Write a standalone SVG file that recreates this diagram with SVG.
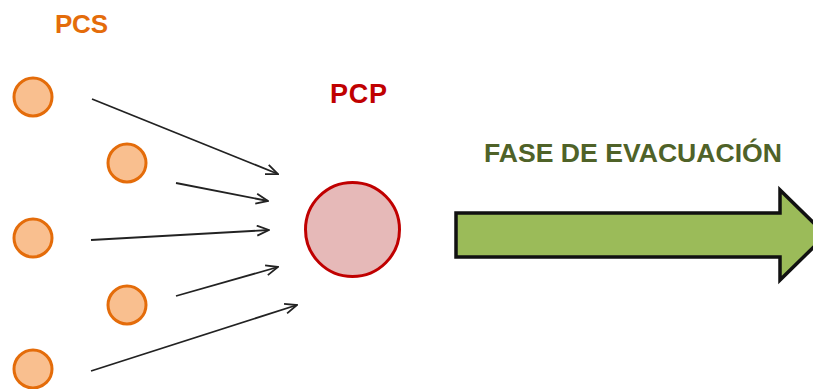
<svg xmlns="http://www.w3.org/2000/svg" width="813" height="389" viewBox="0 0 813 389">
<style>
.pcs{fill:#F9BF8F;stroke:#E46C0A;stroke-width:3}
.lbl{font-family:"Liberation Sans",Arial,sans-serif;font-weight:bold}
.conn line{stroke:#222;stroke-width:1.8;fill:none;marker-end:url(#ah)}
</style>
<defs>
<marker id="ah" viewBox="0 0 14 12" refX="13" refY="6" markerWidth="14" markerHeight="12" markerUnits="userSpaceOnUse" orient="auto">
<path d="M1,1 L13,6 L1,11" fill="none" stroke="#222" stroke-width="1.8"/>
</marker>
</defs>
<rect width="813" height="389" fill="#fff"/>
<text class="lbl" x="55" y="33" font-size="26" fill="#E46C0A" textLength="53">PCS</text>
<g id="pcs1"><circle class="pcs" cx="33" cy="97" r="19"/></g>
<g id="pcs2"><circle class="pcs" cx="127" cy="163" r="19"/></g>
<g id="pcs3"><circle class="pcs" cx="33" cy="238" r="19"/></g>
<g id="pcs4"><circle class="pcs" cx="127" cy="305" r="19"/></g>
<g id="pcs5"><circle class="pcs" cx="33" cy="369" r="19"/></g>
<g id="pcp">
<text class="lbl" x="330" y="103" font-size="27" fill="#C00000" textLength="57">PCP</text>
<circle cx="352.5" cy="229.5" r="47" fill="#E6B9B8" stroke="#C00000" stroke-width="3"/>
</g>
<g class="conn" id="connectors">
<line x1="92" y1="99" x2="278" y2="174"/>
<line x1="176" y1="183" x2="268" y2="201"/>
<line x1="91" y1="240" x2="269" y2="230"/>
<line x1="176" y1="296" x2="278" y2="267"/>
<line x1="91" y1="371" x2="297" y2="305"/>
</g>
<g id="evacuacion">
<text class="lbl" x="484" y="162" font-size="26" fill="#4F6228" textLength="298" lengthAdjust="spacingAndGlyphs">FASE DE EVACUACIÓN</text>
<path d="M456,213 L780,213 L780,190 L826,235 L780,280 L780,257 L456,257 Z" fill="#9BBB59" stroke="#111" stroke-width="3.5" stroke-linejoin="miter"/>
</g>
</svg>
